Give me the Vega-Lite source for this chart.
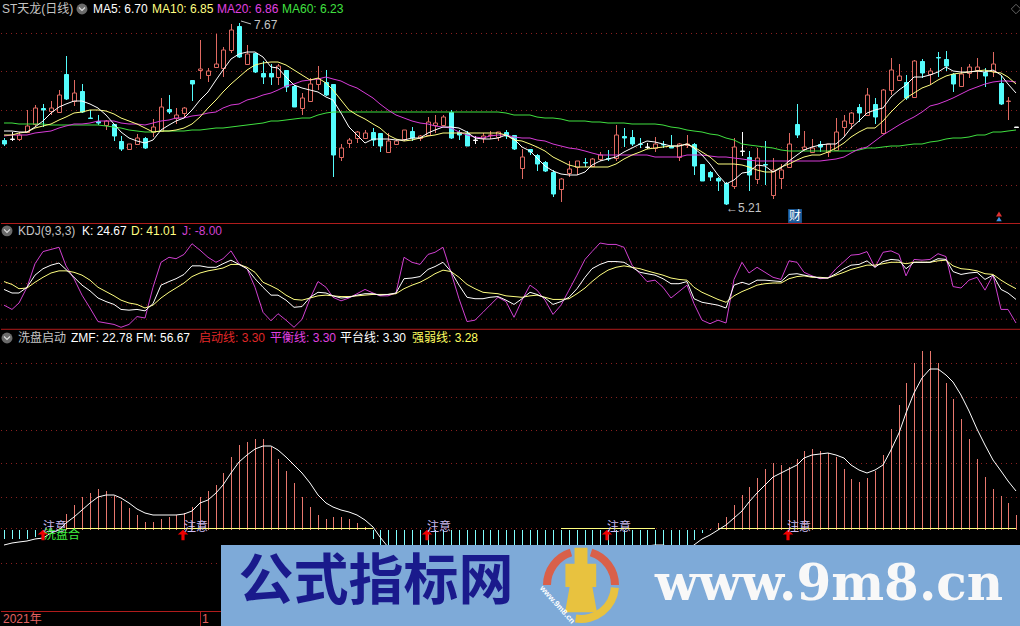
{"$schema":"https://vega.github.io/schema/vega-lite/v6.json","background":"#000000","padding":0,"spacing":0,"config":{"view":{"stroke":null},"concat":{"spacing":0}},
"resolve":{"scale":{"color":"independent","fill":"independent","stroke":"independent"}},
"datasets":{"daily":[
{"i":0,"dir":"down","o":6.09,"h":6.11,"l":6.01,"c":6.04,"ma5":6.21,"ma10":6.16,"ma20":6.14,"ma60":6.32,"k":41,"d":52,"j":19,"zmf":-14,"fm":-22},
{"i":1,"dir":"flat","o":6.10,"h":6.20,"l":6.07,"c":6.10,"ma5":6.21,"ma10":6.16,"ma20":6.16,"ma60":6.32,"k":36,"d":48,"j":13,"zmf":-14,"fm":-20},
{"i":2,"dir":"up","o":6.10,"h":6.20,"l":6.07,"c":6.16,"ma5":6.19,"ma10":6.18,"ma20":6.16,"ma60":6.31,"k":36,"d":42,"j":22,"zmf":-14,"fm":-18},
{"i":3,"dir":"up","o":6.20,"h":6.49,"l":6.18,"c":6.28,"ma5":6.20,"ma10":6.20,"ma20":6.16,"ma60":6.30,"k":44,"d":43,"j":44,"zmf":-14,"fm":-16},
{"i":4,"dir":"up","o":6.30,"h":6.56,"l":6.28,"c":6.52,"ma5":6.27,"ma10":6.25,"ma20":6.18,"ma60":6.30,"k":61,"d":51,"j":77,"zmf":-11,"fm":-14},
{"i":5,"dir":"down","o":6.52,"h":6.57,"l":6.27,"c":6.50,"ma5":6.34,"ma10":6.28,"ma20":6.19,"ma60":6.30,"k":70,"d":58,"j":94,"zmf":-7,"fm":-12},
{"i":6,"dir":"up","o":6.48,"h":6.61,"l":6.43,"c":6.52,"ma5":6.45,"ma10":6.31,"ma20":6.21,"ma60":6.29,"k":75,"d":64,"j":97,"zmf":-2,"fm":-5},
{"i":7,"dir":"up","o":6.47,"h":6.77,"l":6.45,"c":6.70,"ma5":6.53,"ma10":6.36,"ma20":6.25,"ma60":6.29,"k":78,"d":67,"j":100,"zmf":3,"fm":0},
{"i":8,"dir":"down","o":6.98,"h":7.22,"l":6.63,"c":6.64,"ma5":6.57,"ma10":6.40,"ma20":6.28,"ma60":6.29,"k":69,"d":67,"j":74,"zmf":24,"fm":10},
{"i":9,"dir":"up","o":6.61,"h":6.90,"l":6.55,"c":6.72,"ma5":6.61,"ma10":6.45,"ma20":6.30,"ma60":6.29,"k":58,"d":65,"j":56,"zmf":38,"fm":20},
{"i":10,"dir":"down","o":6.75,"h":6.85,"l":6.45,"c":6.47,"ma5":6.61,"ma10":6.47,"ma20":6.31,"ma60":6.29,"k":47,"d":61,"j":33,"zmf":49,"fm":30},
{"i":11,"dir":"down","o":6.39,"h":6.49,"l":6.37,"c":6.38,"ma5":6.57,"ma10":6.50,"ma20":6.32,"ma60":6.29,"k":39,"d":54,"j":15,"zmf":56,"fm":40},
{"i":12,"dir":"down","o":6.35,"h":6.43,"l":6.29,"c":6.32,"ma5":6.52,"ma10":6.50,"ma20":6.34,"ma60":6.29,"k":29,"d":44,"j":-4,"zmf":61,"fm":50},
{"i":13,"dir":"up","o":6.29,"h":6.36,"l":6.22,"c":6.35,"ma5":6.43,"ma10":6.48,"ma20":6.35,"ma60":6.28,"k":24,"d":38,"j":-6,"zmf":59,"fm":52},
{"i":14,"dir":"down","o":6.30,"h":6.31,"l":6.07,"c":6.14,"ma5":6.31,"ma10":6.44,"ma20":6.34,"ma60":6.27,"k":20,"d":32,"j":-8,"zmf":51,"fm":52},
{"i":15,"dir":"down","o":6.07,"h":6.14,"l":5.94,"c":5.97,"ma5":6.20,"ma10":6.39,"ma20":6.32,"ma60":6.25,"k":13,"d":26,"j":-12,"zmf":44,"fm":48},
{"i":16,"dir":"up","o":5.96,"h":6.04,"l":5.95,"c":6.03,"ma5":6.11,"ma10":6.35,"ma20":6.31,"ma60":6.23,"k":12,"d":22,"j":-8,"zmf":33,"fm":41},
{"i":17,"dir":"up","o":6.03,"h":6.17,"l":6.02,"c":6.11,"ma5":6.07,"ma10":6.30,"ma20":6.30,"ma60":6.21,"k":13,"d":20,"j":3,"zmf":22,"fm":32},
{"i":18,"dir":"down","o":6.12,"h":6.13,"l":5.97,"c":5.98,"ma5":6.05,"ma10":6.25,"ma20":6.29,"ma60":6.20,"k":11,"d":15,"j":1,"zmf":12,"fm":26},
{"i":19,"dir":"up","o":6.19,"h":6.37,"l":6.13,"c":6.26,"ma5":6.09,"ma10":6.20,"ma20":6.32,"ma60":6.20,"k":21,"d":19,"j":44,"zmf":12,"fm":22},
{"i":20,"dir":"up","o":6.21,"h":6.65,"l":6.20,"c":6.54,"ma5":6.22,"ma10":6.21,"ma20":6.35,"ma60":6.21,"k":47,"d":29,"j":79,"zmf":16,"fm":22},
{"i":21,"dir":"down","o":6.51,"h":6.70,"l":6.44,"c":6.46,"ma5":6.29,"ma10":6.21,"ma20":6.36,"ma60":6.21,"k":52,"d":37,"j":86,"zmf":19,"fm":22},
{"i":22,"dir":"up","o":6.38,"h":6.52,"l":6.31,"c":6.43,"ma5":6.34,"ma10":6.22,"ma20":6.38,"ma60":6.21,"k":56,"d":43,"j":84,"zmf":23,"fm":22},
{"i":23,"dir":"up","o":6.45,"h":6.53,"l":6.38,"c":6.52,"ma5":6.38,"ma10":6.25,"ma20":6.39,"ma60":6.21,"k":62,"d":50,"j":90,"zmf":26,"fm":24},
{"i":24,"dir":"down","o":6.90,"h":6.90,"l":6.62,"c":6.84,"ma5":6.49,"ma10":6.31,"ma20":6.41,"ma60":6.23,"k":74,"d":59,"j":105,"zmf":35,"fm":28},
{"i":25,"dir":"up","o":7.03,"h":7.44,"l":6.91,"c":7.05,"ma5":6.63,"ma10":6.40,"ma20":6.43,"ma60":6.23,"k":74,"d":64,"j":96,"zmf":50,"fm":40},
{"i":26,"dir":"up","o":6.97,"h":7.06,"l":6.87,"c":7.02,"ma5":6.74,"ma10":6.52,"ma20":6.45,"ma60":6.24,"k":72,"d":67,"j":86,"zmf":58,"fm":45},
{"i":27,"dir":"up","o":7.08,"h":7.52,"l":7.08,"c":7.11,"ma5":6.90,"ma10":6.63,"ma20":6.47,"ma60":6.25,"k":72,"d":69,"j":79,"zmf":68,"fm":55},
{"i":28,"dir":"up","o":7.06,"h":7.35,"l":6.94,"c":7.30,"ma5":7.03,"ma10":6.74,"ma20":6.52,"ma60":6.25,"k":77,"d":71,"j":84,"zmf":86,"fm":68},
{"i":29,"dir":"up","o":7.31,"h":7.66,"l":7.26,"c":7.58,"ma5":7.18,"ma10":6.85,"ma20":6.56,"ma60":6.27,"k":82,"d":76,"j":95,"zmf":109,"fm":85},
{"i":30,"dir":"down","o":7.63,"h":7.67,"l":7.19,"c":7.21,"ma5":7.25,"ma10":6.94,"ma20":6.58,"ma60":6.28,"k":76,"d":76,"j":77,"zmf":128,"fm":102},
{"i":31,"dir":"up","o":7.12,"h":7.37,"l":7.11,"c":7.25,"ma5":7.28,"ma10":7.03,"ma20":6.63,"ma60":6.29,"k":70,"d":72,"j":70,"zmf":132,"fm":112},
{"i":32,"dir":"down","o":7.26,"h":7.27,"l":6.99,"c":7.01,"ma5":7.28,"ma10":7.10,"ma20":6.65,"ma60":6.30,"k":56,"d":65,"j":44,"zmf":137,"fm":122},
{"i":33,"dir":"down","o":6.99,"h":7.15,"l":6.85,"c":6.94,"ma5":7.21,"ma10":7.13,"ma20":6.70,"ma60":6.32,"k":44,"d":51,"j":9,"zmf":136,"fm":126},
{"i":34,"dir":"down","o":6.99,"h":7.12,"l":6.83,"c":6.94,"ma5":7.08,"ma10":7.14,"ma20":6.73,"ma60":6.34,"k":33,"d":46,"j":-3,"zmf":124,"fm":126},
{"i":35,"dir":"up","o":6.94,"h":7.11,"l":6.83,"c":7.09,"ma5":7.06,"ma10":7.14,"ma20":6.76,"ma60":6.35,"k":33,"d":41,"j":7,"zmf":107,"fm":120},
{"i":36,"dir":"down","o":7.03,"h":7.04,"l":6.74,"c":6.80,"ma5":6.94,"ma10":7.10,"ma20":6.82,"ma60":6.36,"k":26,"d":33,"j":-2,"zmf":88,"fm":110},
{"i":37,"dir":"down","o":6.82,"h":6.83,"l":6.53,"c":6.54,"ma5":6.83,"ma10":7.04,"ma20":6.85,"ma60":6.37,"k":16,"d":27,"j":-12,"zmf":70,"fm":98},
{"i":38,"dir":"up","o":6.52,"h":6.72,"l":6.43,"c":6.66,"ma5":6.79,"ma10":6.97,"ma20":6.88,"ma60":6.38,"k":17,"d":26,"j":-1,"zmf":50,"fm":85},
{"i":39,"dir":"up","o":6.62,"h":6.92,"l":6.61,"c":6.85,"ma5":6.76,"ma10":6.90,"ma20":6.90,"ma60":6.39,"k":30,"d":29,"j":28,"zmf":34,"fm":70},
{"i":40,"dir":"up","o":6.85,"h":7.09,"l":6.76,"c":6.91,"ma5":6.74,"ma10":6.92,"ma20":6.91,"ma60":6.42,"k":37,"d":32,"j":52,"zmf":23,"fm":52},
{"i":41,"dir":"down","o":6.87,"h":7.04,"l":6.68,"c":6.70,"ma5":6.67,"ma10":6.86,"ma20":6.94,"ma60":6.45,"k":36,"d":33,"j":44,"zmf":16,"fm":41},
{"i":42,"dir":"down","o":6.85,"h":6.85,"l":5.59,"c":5.89,"ma5":6.63,"ma10":6.76,"ma20":6.91,"ma60":6.46,"k":32,"d":32,"j":30,"zmf":19,"fm":35},
{"i":43,"dir":"up","o":5.86,"h":6.03,"l":5.81,"c":5.98,"ma5":6.45,"ma10":6.63,"ma20":6.89,"ma60":6.47,"k":29,"d":31,"j":25,"zmf":20,"fm":30},
{"i":44,"dir":"up","o":6.05,"h":6.11,"l":5.98,"c":6.09,"ma5":6.27,"ma10":6.49,"ma20":6.83,"ma60":6.47,"k":30,"d":31,"j":29,"zmf":17,"fm":27},
{"i":45,"dir":"up","o":6.11,"h":6.21,"l":6.05,"c":6.19,"ma5":6.16,"ma10":6.43,"ma20":6.79,"ma60":6.46,"k":33,"d":32,"j":35,"zmf":11,"fm":22},
{"i":46,"dir":"up","o":6.12,"h":6.23,"l":6.11,"c":6.18,"ma5":6.05,"ma10":6.37,"ma20":6.72,"ma60":6.46,"k":35,"d":33,"j":41,"zmf":5,"fm":15},
{"i":47,"dir":"down","o":6.20,"h":6.25,"l":6.01,"c":6.09,"ma5":6.10,"ma10":6.30,"ma20":6.65,"ma60":6.46,"k":35,"d":34,"j":36,"zmf":-13,"fm":5},
{"i":48,"dir":"down","o":6.18,"h":6.18,"l":5.93,"c":6.01,"ma5":6.10,"ma10":6.25,"ma20":6.57,"ma60":6.47,"k":33,"d":34,"j":32,"zmf":-37,"fm":-11},
{"i":49,"dir":"up","o":5.92,"h":6.18,"l":5.91,"c":6.07,"ma5":6.10,"ma10":6.16,"ma20":6.49,"ma60":6.47,"k":34,"d":34,"j":32,"zmf":-38,"fm":-25},
{"i":50,"dir":"up","o":6.04,"h":6.10,"l":6.03,"c":6.07,"ma5":6.09,"ma10":6.10,"ma20":6.43,"ma60":6.47,"k":36,"d":35,"j":36,"zmf":-40,"fm":-36},
{"i":51,"dir":"up","o":6.10,"h":6.23,"l":6.07,"c":6.23,"ma5":6.09,"ma10":6.08,"ma20":6.38,"ma60":6.47,"k":56,"d":42,"j":86,"zmf":-42,"fm":-44},
{"i":52,"dir":"down","o":6.21,"h":6.26,"l":6.07,"c":6.12,"ma5":6.11,"ma10":6.09,"ma20":6.35,"ma60":6.47,"k":57,"d":47,"j":79,"zmf":-44,"fm":-50},
{"i":53,"dir":"up","o":6.11,"h":6.16,"l":6.08,"c":6.14,"ma5":6.12,"ma10":6.12,"ma20":6.32,"ma60":6.47,"k":59,"d":51,"j":76,"zmf":-45,"fm":-55},
{"i":54,"dir":"up","o":6.16,"h":6.40,"l":6.16,"c":6.33,"ma5":6.18,"ma10":6.14,"ma20":6.30,"ma60":6.47,"k":69,"d":57,"j":90,"zmf":-46,"fm":-58},
{"i":55,"dir":"up","o":6.29,"h":6.43,"l":6.18,"c":6.32,"ma5":6.23,"ma10":6.16,"ma20":6.28,"ma60":6.47,"k":73,"d":63,"j":93,"zmf":-46,"fm":-60},
{"i":56,"dir":"up","o":6.29,"h":6.43,"l":6.28,"c":6.40,"ma5":6.26,"ma10":6.18,"ma20":6.27,"ma60":6.47,"k":79,"d":68,"j":100,"zmf":-47,"fm":-62},
{"i":57,"dir":"down","o":6.46,"h":6.49,"l":6.10,"c":6.12,"ma5":6.26,"ma10":6.18,"ma20":6.25,"ma60":6.47,"k":66,"d":66,"j":65,"zmf":-48,"fm":-64},
{"i":58,"dir":"down","o":6.19,"h":6.22,"l":6.09,"c":6.15,"ma5":6.25,"ma10":6.18,"ma20":6.20,"ma60":6.47,"k":47,"d":58,"j":28,"zmf":-48,"fm":-66},
{"i":59,"dir":"down","o":6.18,"h":6.21,"l":6.01,"c":6.01,"ma5":6.19,"ma10":6.18,"ma20":6.16,"ma60":6.46,"k":30,"d":48,"j":-4,"zmf":-48,"fm":-68},
{"i":60,"dir":"flat","o":6.09,"h":6.14,"l":6.03,"c":6.09,"ma5":6.12,"ma10":6.18,"ma20":6.13,"ma60":6.47,"k":28,"d":42,"j":-2,"zmf":-49,"fm":-70},
{"i":61,"dir":"up","o":6.12,"h":6.18,"l":6.05,"c":6.14,"ma5":6.10,"ma10":6.18,"ma20":6.12,"ma60":6.47,"k":28,"d":37,"j":9,"zmf":-50,"fm":-72},
{"i":62,"dir":"up","o":6.15,"h":6.21,"l":6.10,"c":6.16,"ma5":6.10,"ma10":6.18,"ma20":6.14,"ma60":6.47,"k":30,"d":36,"j":19,"zmf":-50,"fm":-74},
{"i":63,"dir":"up","o":6.13,"h":6.20,"l":6.07,"c":6.19,"ma5":6.12,"ma10":6.18,"ma20":6.16,"ma60":6.46,"k":31,"d":35,"j":30,"zmf":-50,"fm":-74},
{"i":64,"dir":"down","o":6.19,"h":6.23,"l":6.10,"c":6.14,"ma5":6.16,"ma10":6.16,"ma20":6.16,"ma60":6.45,"k":26,"d":32,"j":24,"zmf":-49,"fm":-76},
{"i":65,"dir":"down","o":6.16,"h":6.16,"l":5.95,"c":5.96,"ma5":6.10,"ma10":6.09,"ma20":6.13,"ma60":6.43,"k":20,"d":31,"j":2,"zmf":-48,"fm":-78},
{"i":66,"dir":"up","o":5.71,"h":5.97,"l":5.56,"c":5.86,"ma5":6.00,"ma10":6.07,"ma20":6.12,"ma60":6.43,"k":28,"d":30,"j":26,"zmf":-47,"fm":-80},
{"i":67,"dir":"down","o":5.96,"h":5.97,"l":5.89,"c":5.92,"ma5":5.94,"ma10":6.03,"ma20":6.11,"ma60":6.42,"k":37,"d":32,"j":47,"zmf":-46,"fm":-82},
{"i":68,"dir":"down","o":5.89,"h":5.90,"l":5.67,"c":5.76,"ma5":5.84,"ma10":6.00,"ma20":6.09,"ma60":6.40,"k":34,"d":33,"j":40,"zmf":-46,"fm":-82},
{"i":69,"dir":"down","o":5.79,"h":5.80,"l":5.66,"c":5.67,"ma5":5.74,"ma10":5.94,"ma20":6.07,"ma60":6.39,"k":29,"d":30,"j":26,"zmf":-45,"fm":-80},
{"i":70,"dir":"down","o":5.66,"h":5.68,"l":5.32,"c":5.36,"ma5":5.67,"ma10":5.86,"ma20":6.04,"ma60":6.38,"k":20,"d":27,"j":6,"zmf":-44,"fm":-78},
{"i":71,"dir":"up","o":5.43,"h":5.57,"l":5.25,"c":5.56,"ma5":5.63,"ma10":5.80,"ma20":6.01,"ma60":6.37,"k":24,"d":27,"j":19,"zmf":-44,"fm":-74},
{"i":72,"dir":"up","o":5.64,"h":5.80,"l":5.59,"c":5.69,"ma5":5.61,"ma10":5.75,"ma20":5.98,"ma60":6.35,"k":30,"d":28,"j":40,"zmf":-43,"fm":-70},
{"i":73,"dir":"up","o":5.73,"h":5.80,"l":5.61,"c":5.80,"ma5":5.61,"ma10":5.73,"ma20":5.96,"ma60":6.34,"k":42,"d":35,"j":61,"zmf":-42,"fm":-66},
{"i":74,"dir":"down","o":5.79,"h":5.84,"l":5.73,"c":5.78,"ma5":5.66,"ma10":5.73,"ma20":5.94,"ma60":6.34,"k":58,"d":43,"j":83,"zmf":-42,"fm":-62},
{"i":75,"dir":"up","o":5.74,"h":5.84,"l":5.73,"c":5.83,"ma5":5.75,"ma10":5.72,"ma20":5.91,"ma60":6.33,"k":70,"d":52,"j":94,"zmf":-41,"fm":-58},
{"i":76,"dir":"up","o":5.83,"h":5.93,"l":5.81,"c":5.89,"ma5":5.80,"ma10":5.72,"ma20":5.89,"ma60":6.33,"k":76,"d":61,"j":106,"zmf":-40,"fm":-54},
{"i":77,"dir":"down","o":5.85,"h":5.95,"l":5.80,"c":5.83,"ma5":5.83,"ma10":5.72,"ma20":5.89,"ma60":6.32,"k":80,"d":68,"j":104,"zmf":-40,"fm":-50},
{"i":78,"dir":"up","o":5.84,"h":6.29,"l":5.80,"c":6.16,"ma5":5.86,"ma10":5.77,"ma20":5.89,"ma60":6.32,"k":80,"d":72,"j":104,"zmf":-39,"fm":-46},
{"i":79,"dir":"down","o":6.14,"h":6.25,"l":6.00,"c":6.12,"ma5":5.93,"ma10":5.83,"ma20":5.89,"ma60":6.32,"k":79,"d":74,"j":100,"zmf":-38,"fm":-42},
{"i":80,"dir":"down","o":6.13,"h":6.23,"l":6.01,"c":6.04,"ma5":5.98,"ma10":5.89,"ma20":5.89,"ma60":6.31,"k":72,"d":72,"j":75,"zmf":-38,"fm":-36},
{"i":81,"dir":"down","o":6.04,"h":6.11,"l":5.98,"c":6.03,"ma5":6.03,"ma10":5.93,"ma20":5.89,"ma60":6.31,"k":65,"d":70,"j":63,"zmf":-37,"fm":-28},
{"i":82,"dir":"flat","o":6.00,"h":6.05,"l":5.96,"c":6.00,"ma5":6.07,"ma10":5.96,"ma20":5.89,"ma60":6.30,"k":63,"d":67,"j":52,"zmf":-36,"fm":-24},
{"i":83,"dir":"up","o":5.98,"h":6.13,"l":5.92,"c":6.04,"ma5":6.06,"ma10":5.98,"ma20":5.86,"ma60":6.30,"k":61,"d":64,"j":54,"zmf":-36,"fm":-22},
{"i":84,"dir":"down","o":6.03,"h":6.07,"l":5.98,"c":6.02,"ma5":6.03,"ma10":6.00,"ma20":5.86,"ma60":6.29,"k":56,"d":61,"j":44,"zmf":-35,"fm":-23},
{"i":85,"dir":"down","o":6.01,"h":6.15,"l":5.98,"c":5.98,"ma5":6.01,"ma10":6.01,"ma20":5.86,"ma60":6.27,"k":49,"d":57,"j":29,"zmf":-34,"fm":-26},
{"i":86,"dir":"up","o":5.86,"h":6.05,"l":5.81,"c":6.04,"ma5":6.01,"ma10":6.01,"ma20":5.86,"ma60":6.25,"k":49,"d":55,"j":38,"zmf":-32,"fm":-30},
{"i":87,"dir":"up","o":6.02,"h":6.16,"l":5.98,"c":6.04,"ma5":6.03,"ma10":6.03,"ma20":5.89,"ma60":6.22,"k":52,"d":54,"j":47,"zmf":-30,"fm":-30},
{"i":88,"dir":"down","o":6.04,"h":6.05,"l":5.62,"c":5.74,"ma5":5.98,"ma10":6.00,"ma20":5.89,"ma60":6.21,"k":28,"d":44,"j":21,"zmf":-15,"fm":-22},
{"i":89,"dir":"down","o":5.76,"h":5.77,"l":5.54,"c":5.54,"ma5":5.89,"ma10":5.93,"ma20":5.88,"ma60":6.19,"k":23,"d":37,"j":-2,"zmf":-4,"fm":-13},
{"i":90,"dir":"down","o":5.66,"h":5.67,"l":5.54,"c":5.59,"ma5":5.77,"ma10":5.86,"ma20":5.87,"ma60":6.17,"k":21,"d":32,"j":-7,"zmf":2,"fm":-7},
{"i":91,"dir":"down","o":5.57,"h":5.59,"l":5.40,"c":5.53,"ma5":5.61,"ma10":5.77,"ma20":5.86,"ma60":6.15,"k":19,"d":27,"j":-2,"zmf":10,"fm":0},
{"i":92,"dir":"down","o":5.51,"h":5.52,"l":5.21,"c":5.22,"ma5":5.50,"ma10":5.76,"ma20":5.86,"ma60":6.12,"k":15,"d":23,"j":-6,"zmf":19,"fm":8},
{"i":93,"dir":"up","o":5.47,"h":6.12,"l":5.43,"c":6.00,"ma5":5.55,"ma10":5.76,"ma20":5.84,"ma60":6.09,"k":47,"d":32,"j":55,"zmf":37,"fm":18},
{"i":94,"dir":"flat","o":5.94,"h":6.20,"l":5.87,"c":5.94,"ma5":5.64,"ma10":5.75,"ma20":5.83,"ma60":6.04,"k":51,"d":38,"j":79,"zmf":52,"fm":28},
{"i":95,"dir":"down","o":5.86,"h":5.94,"l":5.40,"c":5.62,"ma5":5.65,"ma10":5.72,"ma20":5.82,"ma60":6.02,"k":48,"d":42,"j":64,"zmf":64,"fm":42},
{"i":96,"dir":"up","o":5.56,"h":5.98,"l":5.49,"c":5.84,"ma5":5.75,"ma10":5.68,"ma20":5.80,"ma60":6.01,"k":54,"d":47,"j":72,"zmf":78,"fm":55},
{"i":97,"dir":"down","o":5.76,"h":6.07,"l":5.48,"c":5.75,"ma5":5.74,"ma10":5.66,"ma20":5.80,"ma60":5.99,"k":54,"d":49,"j":65,"zmf":91,"fm":68},
{"i":98,"dir":"up","o":5.34,"h":5.84,"l":5.29,"c":5.68,"ma5":5.65,"ma10":5.66,"ma20":5.80,"ma60":5.98,"k":53,"d":50,"j":58,"zmf":101,"fm":79},
{"i":99,"dir":"up","o":5.57,"h":5.77,"l":5.43,"c":5.68,"ma5":5.71,"ma10":5.73,"ma20":5.81,"ma60":5.95,"k":52,"d":50,"j":55,"zmf":97,"fm":86},
{"i":100,"dir":"up","o":5.73,"h":6.18,"l":5.72,"c":6.04,"ma5":5.80,"ma10":5.77,"ma20":5.81,"ma60":5.94,"k":62,"d":56,"j":81,"zmf":95,"fm":92},
{"i":101,"dir":"down","o":6.30,"h":6.58,"l":6.12,"c":6.16,"ma5":5.89,"ma10":5.82,"ma20":5.81,"ma60":5.94,"k":63,"d":59,"j":79,"zmf":107,"fm":98},
{"i":102,"dir":"up","o":5.96,"h":6.21,"l":5.94,"c":6.00,"ma5":5.95,"ma10":5.86,"ma20":5.81,"ma60":5.94,"k":61,"d":60,"j":65,"zmf":118,"fm":108},
{"i":103,"dir":"up","o":5.92,"h":6.10,"l":5.91,"c":5.98,"ma5":6.00,"ma10":5.89,"ma20":5.81,"ma60":5.94,"k":59,"d":58,"j":60,"zmf":121,"fm":112},
{"i":104,"dir":"down","o":6.03,"h":6.08,"l":5.93,"c":6.00,"ma5":6.02,"ma10":5.89,"ma20":5.81,"ma60":5.94,"k":57,"d":58,"j":56,"zmf":119,"fm":114},
{"i":105,"dir":"up","o":5.93,"h":6.04,"l":5.86,"c":6.03,"ma5":6.03,"ma10":5.93,"ma20":5.82,"ma60":5.94,"k":57,"d":57,"j":57,"zmf":115,"fm":115},
{"i":106,"dir":"up","o":5.95,"h":6.38,"l":5.94,"c":6.19,"ma5":6.04,"ma10":5.98,"ma20":5.83,"ma60":5.94,"k":63,"d":61,"j":70,"zmf":109,"fm":113},
{"i":107,"dir":"up","o":6.26,"h":6.43,"l":6.14,"c":6.35,"ma5":6.13,"ma10":6.05,"ma20":5.86,"ma60":5.94,"k":70,"d":65,"j":80,"zmf":91,"fm":108},
{"i":108,"dir":"up","o":6.32,"h":6.47,"l":6.24,"c":6.45,"ma5":6.25,"ma10":6.13,"ma20":5.91,"ma60":5.94,"k":75,"d":69,"j":89,"zmf":77,"fm":98},
{"i":109,"dir":"down","o":6.53,"h":6.57,"l":6.33,"c":6.45,"ma5":6.34,"ma10":6.20,"ma20":5.96,"ma60":5.95,"k":76,"d":72,"j":90,"zmf":72,"fm":90},
{"i":110,"dir":"up","o":6.43,"h":6.79,"l":6.42,"c":6.69,"ma5":6.45,"ma10":6.25,"ma20":6.00,"ma60":5.98,"k":81,"d":75,"j":94,"zmf":78,"fm":86},
{"i":111,"dir":"down","o":6.58,"h":6.65,"l":6.30,"c":6.40,"ma5":6.49,"ma10":6.25,"ma20":6.07,"ma60":5.98,"k":72,"d":75,"j":72,"zmf":88,"fm":90},
{"i":112,"dir":"up","o":6.18,"h":6.78,"l":6.17,"c":6.77,"ma5":6.52,"ma10":6.34,"ma20":6.16,"ma60":6.00,"k":80,"d":77,"j":93,"zmf":113,"fm":98},
{"i":113,"dir":"up","o":6.77,"h":7.19,"l":6.70,"c":7.04,"ma5":6.67,"ma10":6.47,"ma20":6.22,"ma60":6.01,"k":83,"d":79,"j":95,"zmf":152,"fm":120},
{"i":114,"dir":"up","o":6.90,"h":7.11,"l":6.89,"c":6.95,"ma5":6.76,"ma10":6.58,"ma20":6.29,"ma60":6.01,"k":82,"d":79,"j":90,"zmf":188,"fm":145},
{"i":115,"dir":"down","o":6.87,"h":6.97,"l":6.63,"c":6.66,"ma5":6.83,"ma10":6.65,"ma20":6.34,"ma60":6.02,"k":70,"d":77,"j":60,"zmf":221,"fm":175},
{"i":116,"dir":"up","o":6.67,"h":7.17,"l":6.66,"c":7.16,"ma5":6.94,"ma10":6.72,"ma20":6.40,"ma60":6.03,"k":79,"d":79,"j":83,"zmf":250,"fm":205},
{"i":117,"dir":"down","o":7.16,"h":7.18,"l":6.93,"c":6.99,"ma5":6.94,"ma10":6.79,"ma20":6.47,"ma60":6.04,"k":79,"d":79,"j":82,"zmf":269,"fm":228},
{"i":118,"dir":"up","o":6.98,"h":7.06,"l":6.83,"c":7.02,"ma5":6.97,"ma10":6.83,"ma20":6.55,"ma60":6.06,"k":79,"d":79,"j":83,"zmf":269,"fm":241},
{"i":119,"dir":"down","o":7.21,"h":7.28,"l":6.94,"c":7.20,"ma5":7.01,"ma10":6.90,"ma20":6.58,"ma60":6.08,"k":84,"d":81,"j":91,"zmf":250,"fm":242},
{"i":120,"dir":"down","o":7.18,"h":7.29,"l":7.02,"c":7.09,"ma5":7.07,"ma10":6.95,"ma20":6.61,"ma60":6.10,"k":83,"d":82,"j":87,"zmf":221,"fm":232},
{"i":121,"dir":"down","o":6.98,"h":6.99,"l":6.74,"c":6.84,"ma5":7.02,"ma10":6.98,"ma20":6.65,"ma60":6.11,"k":66,"d":74,"j":45,"zmf":196,"fm":222},
{"i":122,"dir":"up","o":6.82,"h":7.08,"l":6.82,"c":6.98,"ma5":7.01,"ma10":7.00,"ma20":6.71,"ma60":6.12,"k":62,"d":70,"j":43,"zmf":166,"fm":202},
{"i":123,"dir":"up","o":6.99,"h":7.11,"l":6.92,"c":7.08,"ma5":7.01,"ma10":7.01,"ma20":6.76,"ma60":6.13,"k":64,"d":69,"j":54,"zmf":136,"fm":178},
{"i":124,"dir":"up","o":7.04,"h":7.19,"l":6.91,"c":7.07,"ma5":7.02,"ma10":7.02,"ma20":6.80,"ma60":6.16,"k":65,"d":67,"j":58,"zmf":107,"fm":152},
{"i":125,"dir":"down","o":7.01,"h":7.06,"l":6.81,"c":6.95,"ma5":7.01,"ma10":7.03,"ma20":6.84,"ma60":6.16,"k":55,"d":63,"j":40,"zmf":79,"fm":128},
{"i":126,"dir":"up","o":7.02,"h":7.28,"l":6.94,"c":7.12,"ma5":7.04,"ma10":7.01,"ma20":6.87,"ma60":6.19,"k":61,"d":62,"j":61,"zmf":61,"fm":105},
{"i":127,"dir":"down","o":6.86,"h":6.95,"l":6.56,"c":6.57,"ma5":6.97,"ma10":6.99,"ma20":6.89,"ma60":6.20,"k":41,"d":54,"j":13,"zmf":51,"fm":88},
{"i":128,"dir":"up","o":6.61,"h":6.67,"l":6.36,"c":6.62,"ma5":6.85,"ma10":6.94,"ma20":6.89,"ma60":6.21,"k":36,"d":48,"j":13,"zmf":41,"fm":74},
{"i":129,"dir":"flat","o":6.27,"h":6.27,"l":6.27,"c":6.27,"ma5":6.72,"ma10":6.85,"ma20":6.87,"ma60":6.22,"k":27,"d":42,"j":-6,"zmf":22,"fm":59}
]},
"vconcat":[
{"width":1020,"height":224,"resolve":{"scale":{"color":"independent"}},"encoding":{"x":{"field":"i","type":"quantitative","axis":null,"scale":{"domain":[-0.344,129.6],"nice":false,"zero":false,"round":true,"padding":0}}},
"layer":[
{"data":{"values":[{"i":-0.35,"end":129.6,"v":7.53},{"i":-0.35,"end":129.6,"v":7.02},{"i":-0.35,"end":129.6,"v":6.50},{"i":-0.35,"end":129.6,"v":5.99},{"i":-0.35,"end":129.6,"v":5.48}]},
"mark":{"type":"rule","color":"#8a2020","strokeDash":[1,4],"strokeWidth":1,"yOffset":0.5},
"encoding":{"x2":{"field":"end"},"y":{"field":"v","type":"quantitative","axis":null,"scale":{"domain":[4.953,7.98],"nice":false,"zero":false,"round":true}}}},
{"data":{"values":[{"i":-0.35,"end":129.6,"v":4.962}]},"mark":{"type":"rule","color":"#b01c1c","strokeWidth":1,"yOffset":0.5},"encoding":{"x2":{"field":"end"},"y":{"field":"v","type":"quantitative"}}},
{"data":{"name":"daily"},"mark":{"type":"rule","strokeWidth":1,"xOffset":0.5},"encoding":{"y":{"field":"l","type":"quantitative"},"y2":{"field":"h"},"color":{"field":"dir","type":"nominal","legend":null,"scale":{"domain":["up","down","flat"],"range":["#e06a62","#54fcfc","#ffffff"]}}}},
{"data":{"name":"daily"},"mark":{"type":"bar","width":4,"strokeWidth":1,"orient":"vertical","xOffset":0.5,"yOffset":0.5},"encoding":{"y":{"field":"o","type":"quantitative"},"y2":{"field":"c"},"fill":{"field":"dir","type":"nominal","legend":null,"scale":{"domain":["up","down","flat"],"range":["#000000","#54fcfc","#ffffff"]}},"stroke":{"field":"dir","type":"nominal","legend":null,"scale":{"domain":["up","down","flat"],"range":["#e06a62","#54fcfc","#ffffff"]}}}},
{"data":{"name":"daily"},"mark":{"type":"line","color":"#40e040","strokeWidth":1},"encoding":{"y":{"field":"ma60","type":"quantitative"}}},
{"data":{"name":"daily"},"mark":{"type":"line","color":"#d83cd8","strokeWidth":1},"encoding":{"y":{"field":"ma20","type":"quantitative"}}},
{"data":{"name":"daily"},"mark":{"type":"line","color":"#ffff80","strokeWidth":1},"encoding":{"y":{"field":"ma10","type":"quantitative"}}},
{"data":{"name":"daily"},"mark":{"type":"line","color":"#ffffff","strokeWidth":1},"encoding":{"y":{"field":"ma5","type":"quantitative"}}},
{"data":{"values":[{"i":30.2,"end":31.5,"v":7.69,"v2":7.66}]},"mark":{"type":"rule","color":"#c0c0c0","strokeWidth":1},"encoding":{"x2":{"field":"end"},"y":{"field":"v","type":"quantitative"},"y2":{"field":"v2"}}},
{"data":{"values":[{"i":9.97,"v":7.86}]},"mark":{"type":"point","shape":"circle","filled":true,"color":"#6a6a6a","size":120,"opacity":1},"encoding":{"y":{"field":"v","type":"quantitative"}}},
{"data":{"values":[{"i":9.97,"v":7.86}]},"mark":{"type":"point","shape":"M-1,-0.5L0,0.5L1,-0.5","filled":false,"color":"#dddddd","size":36,"opacity":1,"strokeWidth":1.2},"encoding":{"y":{"field":"v","type":"quantitative"}}},
{"data":{"values":[{"i":100.8,"v":5.06}]},"mark":{"type":"point","shape":"square","filled":true,"color":"#1c5c9c","size":190,"opacity":1},"encoding":{"y":{"field":"v","type":"quantitative"}}},
{"data":{"values":[{"i":126.8,"v":5.09}]},"mark":{"type":"point","shape":"triangle-up","filled":true,"color":"#e03030","size":36,"opacity":1},"encoding":{"y":{"field":"v","type":"quantitative"}}},
{"data":{"values":[{"i":126.8,"v":5.02}]},"mark":{"type":"point","shape":"triangle-up","filled":true,"color":"#4090e0","size":30,"opacity":1},"encoding":{"y":{"field":"v","type":"quantitative"}}},
{"data":{"values":[{"i":129,"v":7.86}]},"mark":{"type":"point","shape":"diamond","filled":false,"color":"#666666","size":90,"opacity":1,"strokeWidth":1},"encoding":{"y":{"field":"v","type":"quantitative"}}},
{"data":{"values":[{"i":-0.22,"v":7.86,"label":"ST天龙(日线)","series":"title"},{"i":11.38,"v":7.86,"label":"MA5: 6.70","series":"ma5"},{"i":18.89,"v":7.86,"label":"MA10: 6.85","series":"ma10"},{"i":27.17,"v":7.86,"label":"MA20: 6.86","series":"ma20"},{"i":35.45,"v":7.86,"label":"MA60: 6.23","series":"ma60"},{"i":31.9,"v":7.64,"label":"7.67","series":"title"},{"i":92,"v":5.17,"label":"←5.21","series":"title"}]},
"mark":{"type":"text","align":"left","baseline":"middle","fontSize":12,"font":"Liberation Sans, Noto Sans CJK SC"},
"encoding":{"y":{"field":"v","type":"quantitative"},"text":{"field":"label"},"color":{"field":"series","type":"nominal","legend":null,"scale":{"domain":["title","ma5","ma10","ma20","ma60"],"range":["#c4c4c4","#ffffff","#ffff80","#e040e0","#40e040"]}}}},
{"data":{"values":[{"i":100.8,"v":5.06,"label":"财"}]},"mark":{"type":"text","align":"center","baseline":"middle","fontSize":12,"color":"#ffffff","font":"Noto Sans CJK SC"},"encoding":{"y":{"field":"v","type":"quantitative"},"text":{"field":"label"}}}
]},
{"width":1020,"height":106,"resolve":{"scale":{"color":"shared"}},"encoding":{"x":{"field":"i","type":"quantitative","axis":null,"scale":{"domain":[-0.344,129.6],"nice":false,"zero":false,"round":true,"padding":0}}},
"layer":[
{"data":{"values":[{"i":-0.35,"end":129.6,"v":100},{"i":-0.35,"end":129.6,"v":80},{"i":-0.35,"end":129.6,"v":50},{"i":-0.35,"end":129.6,"v":20},{"i":-0.35,"end":129.6,"v":0}]},
"mark":{"type":"rule","color":"#8a2020","strokeDash":[1,4],"strokeWidth":1,"yOffset":0.5},
"encoding":{"x2":{"field":"end"},"y":{"field":"v","type":"quantitative","axis":null,"scale":{"domain":[-15.8,132.6],"nice":false,"zero":false}}}},
{"data":{"values":[{"i":-0.35,"end":129.6,"v":-14.8}]},"mark":{"type":"rule","color":"#b01c1c","strokeWidth":1},"encoding":{"x2":{"field":"end"},"y":{"field":"v","type":"quantitative"}}},
{"data":{"name":"daily"},"mark":{"type":"line","color":"#d040d0","strokeWidth":1},"encoding":{"y":{"field":"j","type":"quantitative"}}},
{"data":{"name":"daily"},"mark":{"type":"line","color":"#ffff80","strokeWidth":1},"encoding":{"y":{"field":"d","type":"quantitative"}}},
{"data":{"name":"daily"},"mark":{"type":"line","color":"#ffffff","strokeWidth":1},"encoding":{"y":{"field":"k","type":"quantitative"}}},
{"data":{"values":[{"i":0.42,"v":123}]},"mark":{"type":"point","shape":"circle","filled":true,"color":"#6a6a6a","size":120,"opacity":1},"encoding":{"y":{"field":"v","type":"quantitative"}}},
{"data":{"values":[{"i":0.42,"v":123}]},"mark":{"type":"point","shape":"M-1,-0.5L0,0.5L1,-0.5","filled":false,"color":"#dddddd","size":36,"opacity":1,"strokeWidth":1.2},"encoding":{"y":{"field":"v","type":"quantitative"}}},
{"data":{"values":[{"i":1.82,"v":123,"label":"KDJ(9,3,3)","series":"title"},{"i":9.97,"v":123,"label":"K: 24.67","series":"k"},{"i":16.2,"v":123,"label":"D: 41.01","series":"d"},{"i":22.7,"v":123,"label":"J: -8.00","series":"j"}]},
"mark":{"type":"text","align":"left","baseline":"middle","fontSize":12,"font":"Liberation Sans, Noto Sans CJK SC"},
"encoding":{"y":{"field":"v","type":"quantitative"},"text":{"field":"label"},"color":{"field":"series","type":"nominal","legend":null,"scale":{"domain":["title","k","d","j"],"range":["#c4c4c4","#ffffff","#ffff80","#d040d0"]}}}}
]},
{"width":1020,"height":296,"resolve":{"scale":{"color":"independent"}},"encoding":{"x":{"field":"i","type":"quantitative","axis":null,"scale":{"domain":[-0.344,129.6],"nice":false,"zero":false,"round":true,"padding":0}}},
"layer":[
{"data":{"values":[{"i":-0.35,"end":129.6,"v":250},{"i":-0.35,"end":129.6,"v":200},{"i":-0.35,"end":129.6,"v":150},{"i":-0.35,"end":129.6,"v":100},{"i":-0.35,"end":129.6,"v":50},{"i":-0.35,"end":129.6,"v":3.3},{"i":-0.35,"end":129.6,"v":-50}]},
"mark":{"type":"rule","color":"#8a2020","strokeDash":[1,4],"strokeWidth":1,"yOffset":0.5},
"encoding":{"x2":{"field":"end"},"y":{"field":"v","type":"quantitative","axis":null,"scale":{"domain":[-144,300],"nice":false,"zero":false,"round":true}}}},
{"data":{"name":"daily"},"mark":{"type":"rule","strokeWidth":1,"xOffset":0.5},"encoding":{"y":{"field":"zmf","type":"quantitative"},"y2":{"datum":0},"color":{"condition":{"test":"datum.zmf>=0","value":"#e8786e"},"value":"#80ffff"}}},
{"data":{"values":[{"i":8,"end":47,"v":3.3},{"i":71,"end":83,"v":3.3},{"i":91,"end":129,"v":3.3}]},"mark":{"type":"rule","color":"#ffff80","strokeWidth":1,"yOffset":0.5},"encoding":{"x2":{"field":"end"},"y":{"field":"v","type":"quantitative"}}},
{"data":{"name":"daily"},"mark":{"type":"line","color":"#ffffff","strokeWidth":1},"encoding":{"y":{"field":"fm","type":"quantitative"}}},
{"data":{"values":[{"i":4.97,"v":-7.5},{"i":22.9,"v":-7.5},{"i":53.9,"v":-7.5},{"i":76.9,"v":-7.5},{"i":99.9,"v":-7.5}]},"mark":{"type":"point","shape":"M0,-1L1,-0.1L0.3,-0.1L0.3,1L-0.3,1L-0.3,-0.1L-1,-0.1Z","filled":true,"color":"#f00000","size":110,"opacity":1},"encoding":{"y":{"field":"v","type":"quantitative"}}},
{"data":{"values":[{"i":6.5,"v":5,"label":"注意","series":"note"},{"i":24.5,"v":5,"label":"注意","series":"note"},{"i":55.4,"v":5,"label":"注意","series":"note"},{"i":78.4,"v":5,"label":"注意","series":"note"},{"i":101.3,"v":5,"label":"注意","series":"note"},{"i":7.43,"v":-7.5,"label":"洗盘合","series":"wash"}]},
"mark":{"type":"text","align":"center","baseline":"middle","fontSize":12,"font":"Noto Sans CJK SC"},
"encoding":{"y":{"field":"v","type":"quantitative"},"text":{"field":"label"},"color":{"field":"series","type":"nominal","legend":null,"scale":{"domain":["note","wash"],"range":["#cdbcf2","#40f040"]}}}},
{"data":{"values":[{"i":-0.35,"end":129.6,"v":-121}]},"mark":{"type":"rule","color":"#b01c1c","strokeWidth":1,"yOffset":0.5},"encoding":{"x2":{"field":"end"},"y":{"field":"v","type":"quantitative"}}},
{"data":{"values":[{"i":24.95,"v":-121,"v2":-144}]},"mark":{"type":"rule","color":"#b01c1c","strokeWidth":1,"xOffset":0.5},"encoding":{"y":{"field":"v","type":"quantitative"},"y2":{"field":"v2"}}},
{"data":{"values":[{"i":-0.09,"v":-134,"label":"2021年"},{"i":25.3,"v":-134,"label":"1"}]},"mark":{"type":"text","align":"left","baseline":"middle","fontSize":12,"color":"#e06060","font":"Liberation Sans, Noto Sans CJK SC"},"encoding":{"y":{"field":"v","type":"quantitative"},"text":{"field":"label"}}},
{"data":{"values":[{"i":0.42,"v":288}]},"mark":{"type":"point","shape":"circle","filled":true,"color":"#6a6a6a","size":120,"opacity":1},"encoding":{"y":{"field":"v","type":"quantitative"}}},
{"data":{"values":[{"i":0.42,"v":288}]},"mark":{"type":"point","shape":"M-1,-0.5L0,0.5L1,-0.5","filled":false,"color":"#dddddd","size":36,"opacity":1,"strokeWidth":1.2},"encoding":{"y":{"field":"v","type":"quantitative"}}},
{"data":{"values":[{"i":1.82,"v":288,"label":"洗盘启动","series":"title"},{"i":8.57,"v":288,"label":"ZMF: 22.78","series":"white"},{"i":16.85,"v":288,"label":"FM: 56.67","series":"white"},{"i":24.88,"v":288,"label":"启动线: 3.30","series":"red"},{"i":33.92,"v":288,"label":"平衡线: 3.30","series":"magenta"},{"i":42.84,"v":288,"label":"平台线: 3.30","series":"white"},{"i":52.01,"v":288,"label":"强弱线: 3.28","series":"yellow"}]},
"mark":{"type":"text","align":"left","baseline":"middle","fontSize":12,"font":"Liberation Sans, Noto Sans CJK SC"},
"encoding":{"y":{"field":"v","type":"quantitative"},"text":{"field":"label"},"color":{"field":"series","type":"nominal","legend":null,"scale":{"domain":["title","white","red","magenta","yellow"],"range":["#c4c4c4","#ffffff","#e02828","#e040e0","#ffff60"]}}}},
{"data":{"values":[{"i":27.68,"end":129.7,"v":-22.5,"v2":-144}]},"mark":{"type":"rect","color":"#7eaad8"},"encoding":{"x2":{"field":"end"},"y":{"field":"v","type":"quantitative"},"y2":{"field":"v2"}}},
{"data":{"values":[{"i":47.4,"v":-78,"label":"公式指标网"}]},"mark":{"type":"text","align":"center","baseline":"middle","fontSize":55,"fontWeight":"bold","color":"#1a1a8c","font":"Noto Sans CJK SC"},"encoding":{"y":{"field":"v","type":"quantitative"},"text":{"field":"label"}}},
{"data":{"values":[{"i":105.1,"v":-82.5,"label":"www.9m8.cn"}]},"mark":{"type":"text","align":"center","baseline":"middle","fontSize":50,"fontWeight":"bold","color":"#f8f8f8","font":"DejaVu Serif"},"encoding":{"y":{"field":"v","type":"quantitative"},"text":{"field":"label"}}},
{"data":{"values":[{"i":73.6,"v":-82.5}]},"mark":{"type":"arc","innerRadius":30,"outerRadius":38,"theta":-1.57,"theta2":-0.3,"color":"#d9604a"},"encoding":{"y":{"field":"v","type":"quantitative"}}},
{"data":{"values":[{"i":73.6,"v":-82.5}]},"mark":{"type":"arc","innerRadius":30,"outerRadius":38,"theta":0.3,"theta2":1.57,"color":"#d9604a"},"encoding":{"y":{"field":"v","type":"quantitative"}}},
{"data":{"values":[{"i":73.6,"v":-82.5}]},"mark":{"type":"arc","innerRadius":30,"outerRadius":38,"theta":1.65,"theta2":3.3,"color":"#e8c23f"},"encoding":{"y":{"field":"v","type":"quantitative"}}},
{"data":{"values":[{"i":73.6,"v":-82.5}]},"mark":{"type":"point","shape":"M-0.17,-0.98L0.17,-0.98L0.17,-0.56L0.4,-0.56L0.4,0.05L0.3,0.05L0.42,0.72L-0.42,0.72L-0.3,0.05L-0.41,0.05L-0.41,-0.56L-0.17,-0.56Z","filled":true,"color":"#e8c23f","size":5776,"opacity":1},"encoding":{"y":{"field":"v","type":"quantitative"}}},
{"data":{"values":[{"i":70.5,"v":-112,"label":"www.9m8.cn"}]},"mark":{"type":"text","align":"center","baseline":"middle","fontSize":8,"fontWeight":"bold","angle":48,"color":"#ffffff","font":"Liberation Sans"},"encoding":{"y":{"field":"v","type":"quantitative"},"text":{"field":"label"}}}
]}
]}
